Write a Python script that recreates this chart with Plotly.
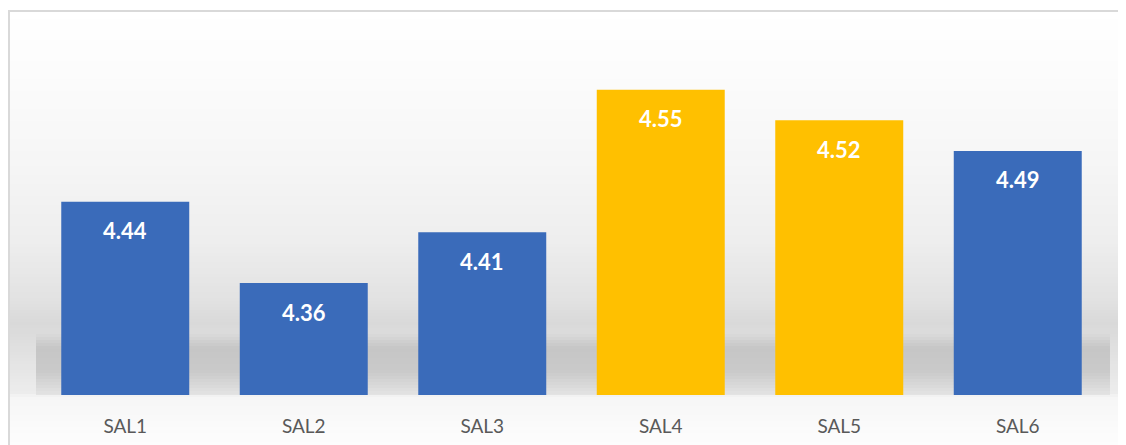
import plotly.graph_objects as go

# data
categories = ["SAL1", "SAL2", "SAL3", "SAL4", "SAL5", "SAL6"]
values = [4.44, 4.36, 4.41, 4.55, 4.52, 4.49]
highlight = [False, False, False, True, True, False]

BLUE = "#3A6BBA"
GOLD = "#FFC000"

# the page body has an 8px margin, so work in page pixels and shift
OFF = 8
W, H = 1126 - OFF, 445 - OFF
L, R, T, B = 36 - OFF, 19, 39 - OFF, 50
PW, PH = W - L - R, H - T - B


def px_x(p):
    return (p - OFF - L) / PW


def px_y(p):
    return (H - B - (p - OFF)) / PH


def hex2rgb(h):
    h = h.lstrip("#")
    return [int(h[i:i + 2], 16) for i in (0, 2, 4)]


def interp(stops, p):
    for (p0, c0), (p1, c1) in zip(stops, stops[1:]):
        if p0 <= p <= p1:
            t = (p - p0) / (p1 - p0) if p1 > p0 else 0
            a, b = hex2rgb(c0), hex2rgb(c1)
            return "rgb(%d,%d,%d)" % tuple(round(a[i] + (b[i] - a[i]) * t) for i in range(3))
    return stops[-1][1]


def bands(stops, x0, x1, step=3):
    # stacked strips, each one overlapping the next to hide seams
    out = []
    p = stops[0][0]
    while p < stops[-1][0]:
        q = min(p + step, stops[-1][0])
        out.append(dict(type="rect", xref="paper", yref="paper", layer="below",
                        x0=px_x(x0), x1=px_x(x1), y0=px_y(min(q + 1, stops[-1][0])), y1=px_y(p),
                        line_width=0, fillcolor=interp(stops, (p + q) / 2)))
        p = q
    return out


wall = [(10, "#ffffff"), (70, "#fcfcfc"), (160, "#f6f6f6"), (240, "#eeeeee"),
        (300, "#e2e2e2"), (322, "#d9d9d9"), (335, "#dcdcdc"), (395, "#ededed"),
        (396, "#f6f6f6"), (445, "#fdfdfd")]
floor = [(334, "#dadada"), (348, "#c6c6c6"), (372, "#cacaca"), (395, "#e4e4e4")]

shapes = bands(wall, 9, 1126) + bands(floor, 36, 1110)
shapes.append(dict(type="rect", xref="paper", yref="paper", layer="above",
                   x0=px_x(9), x1=px_x(1130), y0=px_y(460), y1=px_y(11),
                   line=dict(color="#d9d9d9", width=2), fillcolor="rgba(0,0,0,0)"))

fig = go.Figure(go.Bar(
    x=categories, y=values,
    marker=dict(color=[GOLD if h else BLUE for h in highlight], line_width=0),
    hoverinfo="x+y",
))

fig.update_layout(
    width=W, height=H,
    margin=dict(l=L, r=R, t=T, b=B),
    paper_bgcolor="white", plot_bgcolor="rgba(0,0,0,0)",
    bargap=0.283, showlegend=False,
    shapes=shapes,
    annotations=[dict(x=c, y=v, text="<b>%.2f</b>" % v, showarrow=False,
                      yanchor="middle", yshift=-29,
                      font=dict(family="Lato, Open Sans, sans-serif", size=22, color="white"))
                 for c, v in zip(categories, values)],
)
fig.update_xaxes(showgrid=False, showline=False, ticks="", automargin=False,
                 tickfont=dict(family="Lato, Open Sans, sans-serif", size=19, color="#595959"),
                 ticklabelstandoff=18)
fig.update_yaxes(range=[4.25, 4.6], visible=False, showgrid=False, automargin=False)

fig.write_html("out.html")
